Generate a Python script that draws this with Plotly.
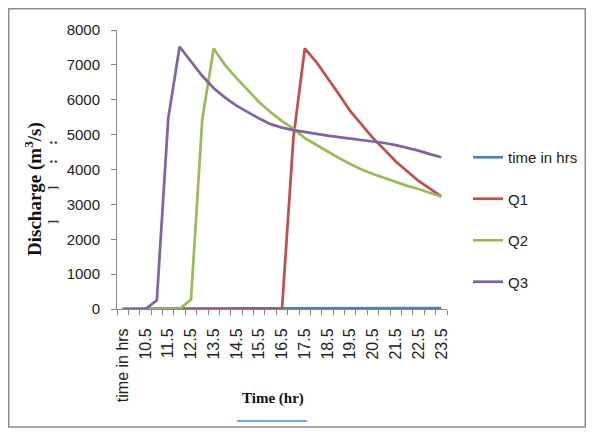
import plotly.graph_objects as go

categories = ["time in hrs", "10", "10.5", "11", "11.5", "12", "12.5", "13", "13.5", "14", "14.5",
              "15", "15.5", "16", "16.5", "17", "17.5", "18", "18.5", "19", "19.5", "20", "20.5",
              "21", "21.5", "22", "22.5", "23", "23.5"]
tick_labels = ["time in hrs", "10.5", "11.5", "12.5", "13.5", "14.5", "15.5", "16.5",
               "17.5", "18.5", "19.5", "20.5", "21.5", "22.5", "23.5"]
time_in_hrs = [0, 10, 10.5, 11, 11.5, 12, 12.5, 13, 13.5, 14, 14.5, 15, 15.5, 16, 16.5, 17,
               17.5, 18, 18.5, 19, 19.5, 20, 20.5, 21, 21.5, 22, 22.5, 23, 23.5]
Q1 = [0, 0, 0, 0, 0, 0, 0, 0, 0, 0, 0, 0, 0, 0, 0,
      4900, 7470, 7090, 6640, 6160, 5670, 5270, 4900, 4570, 4230, 3950, 3670, 3450, 3230]
Q2 = [0, 0, 0, 0, 0, 0,
      270, 5460, 7470, 6990, 6620, 6270, 5930, 5640, 5390, 5170, 4900, 4710, 4510, 4330,
      4160, 4000, 3870, 3750, 3640, 3530, 3440, 3330, 3220]
Q3 = [0, 0, 0,
      250, 5460, 7520, 7100, 6680, 6330, 6060, 5830, 5640, 5460, 5300, 5200, 5130, 5070,
      5020, 4970, 4930, 4890, 4850, 4800, 4760, 4700, 4630, 4540, 4440, 4350]
y_ticks = [0, 1000, 2000, 3000, 4000, 5000, 6000, 7000, 8000]

series = [("time in hrs", time_in_hrs, "#4f81bd", "x"),
          ("Q1", Q1, "#c0504d", "x"),
          ("Q2", Q2, "#9bbb59", "x"),
          ("Q3", Q3, "#8064a2", "x2")]

fig = go.Figure()
for name, vals, color, xa in series:
    fig.add_trace(go.Scatter(x=categories, y=vals, mode="lines", name=name,
                             legendgroup=name, xaxis=xa, yaxis="y",
                             line=dict(color=color, width=2.75)))

# The page body adds an 8px margin: keep the figure inside the window (no scrollbars)
OFF = 8
W, H = 594 - 2 * OFF, 443 - 2 * OFF
# plot area in reference-picture pixels
L, R, T, B = 117, 447, 30, 309
def px(x):
    return (x - L) / (R - L)
def py(y):
    return (B - y) / (B - T)
# figure-edge positions expressed in reference pixels
EDGE_L, EDGE_T = OFF + 0.75, OFF + 0.75
EDGE_R, EDGE_B = OFF + W - 0.75, 427

serif = "Liberation Serif, Times New Roman, serif"
fig.update_layout(
    width=W, height=H,
    margin=dict(l=L - OFF, r=W - (R - OFF), t=T - OFF, b=H - (B - OFF), autoexpand=False),
    paper_bgcolor="white", plot_bgcolor="white",
    font=dict(family="Liberation Sans, Arial, sans-serif", size=15, color="#222"),
    showlegend=True,
    legend=dict(x=px(468), y=py(141), xanchor="left", yanchor="top",
                font=dict(size=15, color="#222"), tracegroupgap=19,
                bgcolor="rgba(0,0,0,0)"),
    xaxis=dict(type="category", categoryorder="array", categoryarray=categories,
               tickmode="array", tickvals=categories[0::2], ticktext=tick_labels,
               ticks="", tickangle=-90, ticklabelstandoff=12,
               showline=True, linecolor="#868686", linewidth=1,
               showgrid=False, zeroline=False, range=[-0.5, 28.5],
               tickfont=dict(size=16)),
    xaxis2=dict(type="category", categoryorder="array", categoryarray=categories,
                overlaying="x", anchor="y", side="bottom",
                tickmode="array", tickvals=categories, showticklabels=False,
                tickson="boundaries", ticks="outside", ticklen=5, tickcolor="#868686",
                showline=False, showgrid=False, zeroline=False, range=[-0.5, 28.5]),
    yaxis=dict(range=[0, 8000], tickvals=y_ticks, ticks="outside", ticklen=5,
               tickcolor="#868686", showline=True, linecolor="#868686", linewidth=1,
               showgrid=False, zeroline=False, ticklabelstandoff=8,
               tickfont=dict(size=15)),
    shapes=[
        dict(type="rect", xref="paper", yref="paper",
             x0=px(EDGE_L), x1=px(EDGE_R), y0=py(EDGE_B), y1=py(EDGE_T),
             line=dict(color="#8c8c8c", width=1.5), fillcolor="rgba(0,0,0,0)", layer="below"),
        dict(type="line", xref="paper", yref="paper",
             x0=px(237), x1=px(307), y0=py(421), y1=py(421),
             line=dict(color="#6fa8dc", width=2)),
    ],
    annotations=[
        dict(text="<b>Discharge (m<sup>3</sup>/s)</b>", xref="paper", yref="paper",
             x=px(34), y=py(189), xanchor="center", yanchor="middle", textangle=-90,
             showarrow=False, font=dict(family=serif, size=19, color="#111")),
        dict(text="<b>:</b>", xref="paper", yref="paper",
             x=px(52), y=py(143), xanchor="center", yanchor="middle", textangle=-90,
             showarrow=False, font=dict(family=serif, size=15, color="#333")),
        dict(text="<b>:</b>", xref="paper", yref="paper",
             x=px(52), y=py(162), xanchor="center", yanchor="middle", textangle=-90,
             showarrow=False, font=dict(family=serif, size=15, color="#333")),
        dict(text="<b>]</b>", xref="paper", yref="paper",
             x=px(52), y=py(188), xanchor="center", yanchor="middle", textangle=-90,
             showarrow=False, font=dict(family=serif, size=13, color="#333")),
        dict(text="<b>]</b>", xref="paper", yref="paper",
             x=px(52), y=py(222), xanchor="center", yanchor="middle", textangle=-90,
             showarrow=False, font=dict(family=serif, size=13, color="#333")),
        dict(text="<b>Time (hr)</b>", xref="paper", yref="paper",
             x=px(273), y=py(398), xanchor="center", yanchor="middle",
             showarrow=False, font=dict(family=serif, size=15, color="#111")),
    ],
)

fig.write_html("out.html")
